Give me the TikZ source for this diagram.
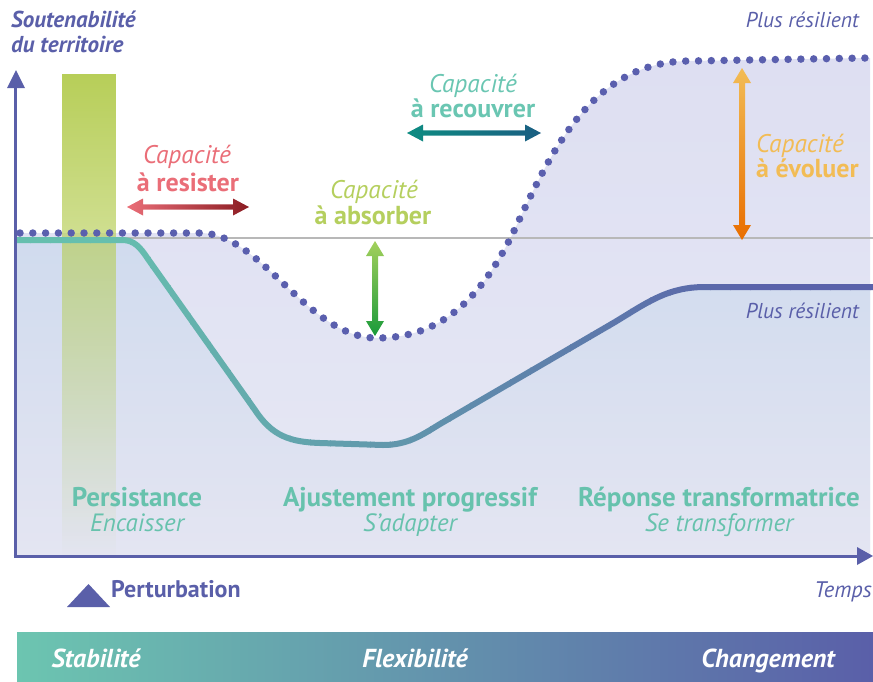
\documentclass[tikz,border=0pt]{standalone}
\usepackage{fontspec}
\setmainfont{PT Sans}
\usetikzlibrary{fadings}
\definecolor{axisblue}{HTML}{5A5FA9}
\definecolor{dotblue}{HTML}{5A5FAE}
\definecolor{curveteal}{HTML}{66BFAE}
\definecolor{curveblue}{HTML}{5A62AA}
\definecolor{labelteal}{HTML}{67C2AD}
\definecolor{redtxt}{HTML}{EA6E78}
\definecolor{redend}{HTML}{8B1C22}
\definecolor{greentxt}{HTML}{B5CF5E}
\definecolor{greentop}{HTML}{A3D05C}
\definecolor{greenend}{HTML}{1A9A3A}
\definecolor{tealtxt}{HTML}{6AC6B2}
\definecolor{tealstart}{HTML}{0E8C82}
\definecolor{tealend}{HTML}{1A5E82}
\definecolor{orangetxt}{HTML}{F2BC55}
\definecolor{orangeend}{HTML}{E96E00}
\definecolor{barGreen}{HTML}{B7CE58}
\definecolor{fillAtop}{HTML}{DEDFF2}
\definecolor{fillAmid}{HTML}{ECF2FA}
\definecolor{fillAbot}{HTML}{E6E8F4}
\definecolor{fillBtop}{HTML}{D0DBEE}
\definecolor{fillBbot}{HTML}{E4E5F2}
\definecolor{bandteal}{HTML}{6CC5B0}
\definecolor{bandmid}{HTML}{5F9EB0}
\newcommand\fs[1]{\fontsize{#1}{#1}\selectfont}
\newcommand\dotcurve{(20,-233) -- (200,-233) .. controls (262,-233) and (307,-338) .. (377,-338) .. controls (440,-338) and (480,-300) .. (513,-233) .. controls (550,-155) and (590,-61) .. (690,-61) -- (866,-58)}
\newcommand\solcurve{(17,-240) -- (122,-240) .. controls (134,-240) and (140,-247) .. (148,-259) -- (255,-410) .. controls (272,-436) and (290,-442) .. (320,-443) -- (383,-445) .. controls (408,-445) and (422,-435) .. (440,-424) -- (615,-322) .. controls (648,-302) and (668,-287) .. (705,-287) -- (873,-287)}
% horizontal double arrow: x1, x2, y, left colour, right colour
\newcommand\harrow[5]{%
  \shade[left color=#4, right color=#5]
    (#1,#3) -- ({#1+16},{#3+8.5}) -- ({#1+16},{#3+2.6}) -- ({#2-16},{#3+2.6}) -- ({#2-16},{#3+8.5})
    -- (#2,#3) -- ({#2-16},{#3-8.5}) -- ({#2-16},{#3-2.6}) -- ({#1+16},{#3-2.6}) -- ({#1+16},{#3-8.5}) -- cycle;}
% vertical double arrow: x, ytop, ybottom, top colour, bottom colour
\newcommand\varrow[5]{%
  \shade[top color=#4, bottom color=#5]
    (#1,#2) -- ({#1+9},{#2-15}) -- ({#1+3},{#2-15}) -- ({#1+3},{#3+15}) -- ({#1+9},{#3+15})
    -- (#1,#3) -- ({#1-9},{#3+15}) -- ({#1-3},{#3+15}) -- ({#1-3},{#2-15}) -- ({#1-9},{#2-15}) -- cycle;}
\tikzfading[name=fadebar, top color=transparent!0, bottom color=transparent!100]
\tikzset{
  capit/.style={font=\fs{25.5}\itshape, inner sep=0pt, anchor=base},
  capbf/.style={font=\fs{26}\bfseries, inner sep=0pt, anchor=base},
  phasebf/.style={font=\fs{27}\bfseries, text=labelteal, inner sep=0pt, anchor=base},
  phaseit/.style={font=\fs{25}\itshape, text=labelteal, inner sep=0pt, anchor=base},
  bluetxt/.style={font=\fs{21.5}\itshape, text=axisblue, inner sep=0pt},
  bandtxt/.style={font=\fs{26}\bfseries\itshape, text=white, inner sep=0pt, anchor=base},
}
\begin{document}
\begin{tikzpicture}[x=1pt,y=1pt]
\useasboundingbox (0,0) rectangle (873,-681);
% fills
\shade[top color=fillAtop, middle color=fillAmid, bottom color=fillAbot]
  (15,-556) -- (15,-233) -- \dotcurve -- (870,-58) -- (870,-556) -- cycle;
\shade[top color=fillBtop, bottom color=fillBbot]
  (15,-556) -- (15,-240) -- \solcurve -- (870,-287) -- (870,-556) -- cycle;
% green perturbation bar
\fill[barGreen, path fading=fadebar] (62,-74) rectangle (116,-556);
% reference line
\draw[black!28, line width=1.5pt] (15,-238) -- (873,-238);
% solid curve with colour gradient
\foreach \i in {0,...,43}{
  \pgfmathsetmacro\xa{10+\i*20}
  \pgfmathsetmacro\xb{\xa+20.8}
  \pgfmathsetmacro\pp{max(0,min(100,(\xa+10-110)/6.5))}
  \begin{scope}
    \clip (\xa,-200) rectangle (\xb,-480);
    \draw[line width=6pt, line cap=round, line join=round, color=curveblue!\pp!curveteal] \solcurve;
  \end{scope}
}
% dotted curve
\draw[dotblue, line width=7.5pt, line cap=round, dash pattern=on 0pt off 12.8pt] \dotcurve;
% capacity arrows
\harrow{127}{249}{-207}{redtxt}{redend}
\varrow{375}{-241}{-336}{greentop}{greenend}
\harrow{407}{541}{-133}{tealstart}{tealend}
\varrow{742}{-68}{-240}{orangetxt}{orangeend}
% axes
\draw[axisblue, line width=3pt] (15,-557.5) -- (15,-84);
\fill[axisblue] (16,-70) -- (25,-88) -- (7,-88) -- cycle;
\draw[axisblue, line width=3pt] (13.5,-556) -- (860,-556);
\fill[axisblue] (873,-556) -- (857,-547) -- (857,-565) -- cycle;
% axis titles
\node[bluetxt, font=\fs{23}\bfseries\itshape, anchor=base west] (ytitle1) at (11,-27) {Soutenabilité};
\node[bluetxt, font=\fs{23}\bfseries\itshape, anchor=base west] (ytitle2) at (11,-52) {du territoire};
\node[bluetxt, anchor=base east] (plus1) at (859,-27) {Plus résilient};
\node[bluetxt, anchor=base east] (plus2) at (859,-318) {Plus résilient};
% capacity labels
\node[capit, text=redtxt] (res1) at (187,-163) {Capacité};
\node[capbf, text=redtxt] (res2) at (188,-191) {à resister};
\node[capit, text=greentxt] (abs1) at (374,-198) {Capacité};
\node[capbf, text=greentxt] (abs2) at (373,-224) {à absorber};
\node[capit, text=tealtxt] (rec1) at (473,-92) {Capacité};
\node[capbf, text=tealtxt] (rec2) at (473,-117) {à recouvrer};
\node[capit, text=orangetxt, anchor=base west] (evo1) at (756,-152) {Capacité};
\node[capbf, text=orangetxt, anchor=base west] (evo2) at (756,-177) {à évoluer};
% phases
\node[phasebf] (ph1) at (137,-506) {Persistance};
\node[phaseit] (ph1b) at (137,-531) {Encaisser};
\node[phasebf] (ph2) at (410,-506) {Ajustement progressif};
\node[phaseit] (ph2b) at (410,-531) {S’adapter};
\node[phasebf] (ph3) at (719,-506) {Réponse transformatrice};
\node[phaseit] (ph3b) at (719,-531) {Se transformer};
% perturbation and time
\fill[axisblue] (67,-607) -- (110,-607) -- (88.5,-584) -- cycle;
\node[bluetxt, font=\fs{24}\bfseries, anchor=base west] (pert) at (111,-597) {Perturbation};
\node[bluetxt, font=\fs{22.5}\itshape, anchor=base east] (temps) at (872,-597) {Temps};
% bottom band
\shade[left color=bandteal, middle color=bandmid, right color=axisblue] (17,-632) rectangle (873,-681);
\node[bandtxt] (b1) at (96,-667) {Stabilité};
\node[bandtxt] (b2) at (415,-667) {Flexibilité};
\node[bandtxt] (b3) at (768,-667) {Changement};
\end{tikzpicture}
\end{document}
